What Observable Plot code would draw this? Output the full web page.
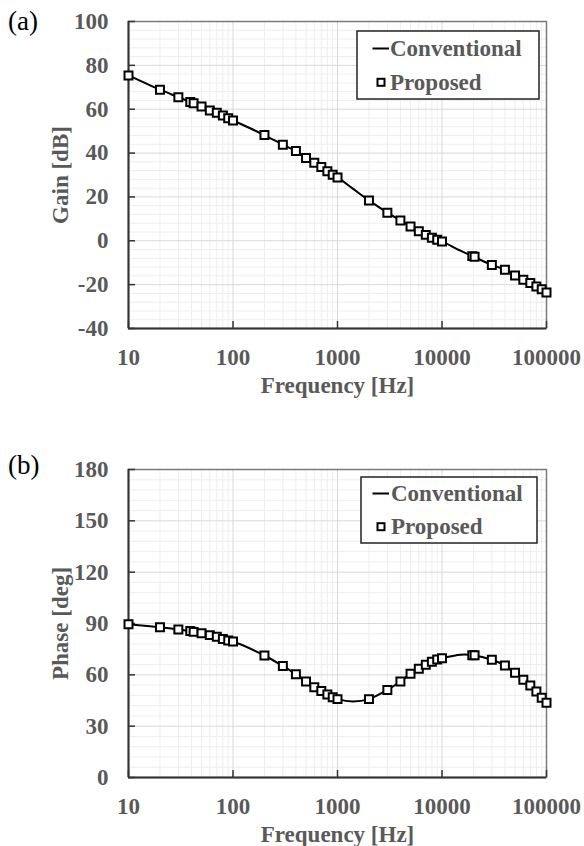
<!DOCTYPE html>
<html><head><meta charset="utf-8">
<script src="https://cdn.jsdelivr.net/npm/d3@7"></script>
<script src="https://cdn.jsdelivr.net/npm/@observablehq/plot@0.6"></script>
<style>
body{margin:0;background:#fff;}
#wrap{position:relative;width:584px;height:846px;overflow:hidden;}
.panel{position:absolute;left:0;}
#overlay{position:absolute;left:0;top:0;}
</style></head>
<body><div id="wrap"></div>
<script>
// ---- data ----
const freqProposed = [10,20,30,39,42,50,60,70,80,90,100,200,300,400,500,600,700,800,900,1000,2000,3000,4000,5000,6000,7000,8000,9000,10000,19500,20500,30000,40000,50000,60000,70000,80000,90000,100000];
const gainProposed = [75.4,68.9,65.5,63.3,62.7,61.2,59.4,58.4,57.1,55.9,54.9,48.2,43.8,40.9,37.8,35.6,33.6,31.7,30.1,28.9,18.4,12.8,9.3,6.5,4.4,2.7,1.4,0.5,-0.3,-7.0,-7.3,-11.0,-13.2,-15.8,-17.8,-19.3,-20.8,-22.1,-23.6];
const phaseProposed = [89.6,87.8,86.5,85.6,85.1,84.3,83.2,82.2,81.0,80.1,79.5,71.3,65.1,60.4,56.1,52.8,50.5,48.5,46.9,45.8,45.8,51.2,56.1,60.6,63.5,65.9,67.6,69.0,69.7,71.5,71.4,68.8,65.5,61.2,57.1,53.8,50.3,46.6,43.7];

const freqConv = [10,20,30,40,50,60,70,80,90,100,200,300,400,500,600,700,800,900,1000,1400,2000,3000,4000,5000,6000,7000,8000,9000,10000,15000,20000,30000,40000,50000,60000,70000,80000,90000,100000];
const gainConv = [75.4,68.9,65.5,63.0,61.2,59.4,58.4,57.1,55.9,54.9,48.2,43.8,40.9,37.8,35.6,33.6,31.7,30.1,28.9,23.8,18.4,12.8,9.3,6.5,4.4,2.7,1.4,0.5,-0.3,-4.5,-7.2,-11.0,-13.2,-15.8,-17.8,-19.3,-20.8,-22.1,-23.6];
const phaseConv = [89.6,87.8,86.5,85.4,84.3,83.2,82.2,81.0,80.1,79.5,71.3,65.1,60.4,56.1,52.8,50.5,48.5,46.9,45.8,44.4,45.8,51.2,56.1,60.6,63.5,65.9,67.6,69.0,69.7,71.8,71.5,68.8,65.5,61.2,57.1,53.8,50.3,46.6,43.7];

const xTicks = [10,100,1000,10000,100000];
const gainTicks = [-40,-20,0,20,40,60,80,100];
const phaseTicks = [0,30,60,90,120,150,180];
const legendLabels = ["Conventional","Proposed"];
const panelTags = ["(a)","(b)"];
const xLabel = "Frequency [Hz]";
const yLabels = ["Gain [dB]","Phase [deg]"];

const FONT = "'Liberation Serif','DejaVu Serif',serif";
const TXT = "#595959";
const FS = 23;
const W = 584, ML = 128, MR = 38;

const minorX = xTicks.slice(0,-1).flatMap(d => [2,3,4,5,6,7,8,9].map(m => m*d));

function panel({yTicks, yLabel, conv, prop, height, marginTop, marginBottom}) {
  const step = (yTicks[1]-yTicks[0])/5;
  const yDom = [yTicks[0], yTicks[yTicks.length-1]];
  const minorY = d3.range(yDom[0], yDom[1]+1e-9, step).filter(v => !yTicks.some(t => Math.abs(t-v) < 1e-9));
  const plotH = height - marginTop - marginBottom;
  const plotW = W - ML - MR;
  return Plot.plot({
    width: W, height, marginLeft: ML, marginRight: MR, marginTop, marginBottom,
    style: {fontFamily: FONT, fontSize: FS + "px", fontWeight: "bold", color: TXT, background: "#fff", overflow: "visible"},
    x: {type: "log", domain: [xTicks[0], xTicks[xTicks.length-1]]},
    y: {domain: yDom},
    marks: [
      Plot.ruleX(minorX, {stroke: "#eeeeee", strokeWidth: 1}),
      Plot.ruleY(minorY, {stroke: "#eeeeee", strokeWidth: 1}),
      Plot.ruleX(xTicks, {stroke: "#d9d9d9", strokeWidth: 1}),
      Plot.ruleY(yTicks, {stroke: "#d9d9d9", strokeWidth: 1}),
      Plot.frame({stroke: "#7a7a7a", strokeWidth: 1.5}),
      Plot.ruleX(xTicks, {stroke: "#333", strokeWidth: 1.5, insetTop: plotH - 7}),
      Plot.ruleY(yTicks, {stroke: "#333", strokeWidth: 1.5, insetRight: plotW - 7}),
      Plot.ruleX([xTicks[0]], {stroke: "#333", strokeWidth: 2}),
      Plot.ruleY([yDom[0]], {stroke: "#333", strokeWidth: 2}),
      Plot.axisX({ticks: xTicks, tickFormat: d => String(d), tickSize: 0, tickPadding: 20, fill: TXT, fontSize: FS,
        label: xLabel, labelAnchor: "center", labelOffset: 64, labelArrow: "none"}),
      Plot.axisY({ticks: yTicks, tickFormat: d => String(d), tickSize: 0, tickPadding: 20, fill: TXT, fontSize: FS,
        label: yLabel, labelAnchor: "center", labelOffset: 77, labelArrow: "none"}),
      Plot.line(conv, {x: "f", y: "v", curve: "catmull-rom", stroke: "#000", strokeWidth: 2}),
      Plot.dot(prop, {x: "f", y: "v", symbol: "square", r: 4.5, stroke: "#000", strokeWidth: 2, fill: "#fff"})
    ]
  });
}

const zip = (f, v) => f.map((d, i) => ({f: d, v: v[i]}));
const wrap = document.getElementById("wrap");

const topPanel = panel({yTicks: gainTicks, yLabel: yLabels[0], conv: zip(freqConv, gainConv), prop: zip(freqProposed, gainProposed),
  height: 410, marginTop: 21, marginBottom: 82});
topPanel.classList.add("panel"); topPanel.style.top = "0px";
wrap.appendChild(topPanel);

const botPanel = panel({yTicks: phaseTicks, yLabel: yLabels[1], conv: zip(freqConv, phaseConv), prop: zip(freqProposed, phaseProposed),
  height: 436, marginTop: 59, marginBottom: 69});
botPanel.classList.add("panel"); botPanel.style.top = "410px";
wrap.appendChild(botPanel);

// ---- legends and panel tags (overlay) ----
const NS = "http://www.w3.org/2000/svg";
const ov = document.createElementNS(NS, "svg");
ov.setAttribute("id", "overlay"); ov.setAttribute("width", W); ov.setAttribute("height", 846);
wrap.appendChild(ov);
function el(name, attrs, text) {
  const e = document.createElementNS(NS, name);
  for (const k in attrs) e.setAttribute(k, attrs[k]);
  if (text != null) e.textContent = text;
  ov.appendChild(e); return e;
}
function legend(x, y, w, h, lineY, txt1Y, sqY, txt2Y, txtX) {
  el("rect", {x, y, width: w, height: h, fill: "#fff", stroke: "#222", "stroke-width": 1.5});
  el("line", {x1: 372.5, x2: 389, y1: lineY, y2: lineY, stroke: "#000", "stroke-width": 2});
  el("text", {x: txtX, y: txt1Y, fill: TXT, "font-family": FONT, "font-size": FS, "font-weight": "bold"}, legendLabels[0]);
  el("rect", {x: 377.5, y: sqY - 3.5, width: 7, height: 7, fill: "#fff", stroke: "#000", "stroke-width": 2});
  el("text", {x: txtX, y: txt2Y, fill: TXT, "font-family": FONT, "font-size": FS, "font-weight": "bold"}, legendLabels[1]);
}
legend(357, 31, 182, 68, 48.5, 56, 82.3, 89.5, 390);
legend(361, 477, 176, 66, 493.5, 501, 526.7, 534, 391);
el("text", {x: 8, y: 30, fill: "#000", "font-family": FONT, "font-size": 27}, panelTags[0]);
el("text", {x: 8, y: 473.5, fill: "#000", "font-family": FONT, "font-size": 27}, panelTags[1]);
</script>
</body></html>
